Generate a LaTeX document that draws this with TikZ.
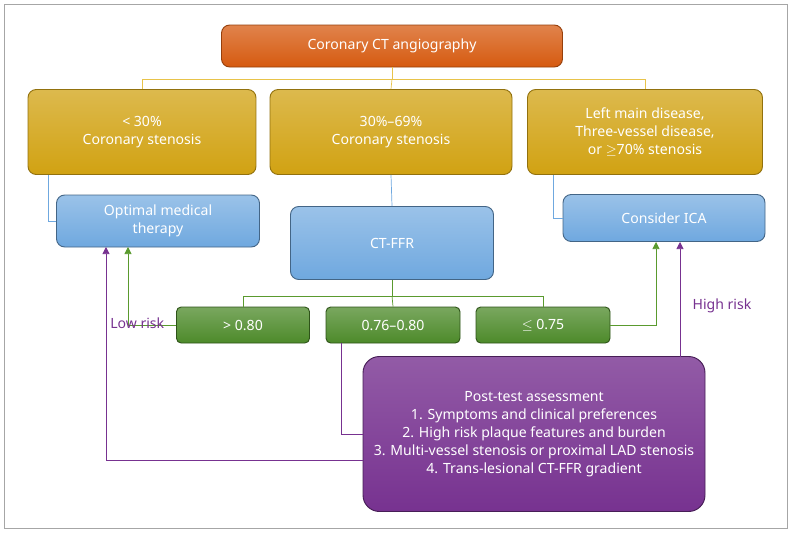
\documentclass[tikz,border=0pt]{standalone}
\usepackage{fontspec}
\setmainfont{Noto Sans}
\usetikzlibrary{arrows.meta}
\definecolor{orangeBox}{HTML}{D65A10}
\definecolor{goldBox}{HTML}{D1A212}
\definecolor{blueBox}{HTML}{6FA8DF}
\definecolor{greenBox}{HTML}{4D8A2A}
\definecolor{purpleBox}{HTML}{773290}
\definecolor{lineGold}{HTML}{E8C34A}
\definecolor{lineBlue}{HTML}{6FA8DF}
\definecolor{lineGreen}{HTML}{5A9A2E}
\definecolor{linePurple}{HTML}{773290}
\tikzset{
  box/.style={rounded corners=7pt, align=center, inner sep=2pt, line width=0.8pt},
  orangeNode/.style={box, top color=orangeBox!75!white, bottom color=orangeBox, draw=orangeBox!70!black, text=white},
  goldNode/.style={box, top color=goldBox!75!white, bottom color=goldBox, draw=goldBox!70!black, text=white},
  blueNode/.style={box, top color=blueBox!70!white, bottom color=blueBox, draw=blueBox!60!black, text=white},
  greenNode/.style={box, rounded corners=4pt, top color=greenBox!75!white, bottom color=greenBox, draw=greenBox!60!black, text=white},
  purpleNode/.style={box, rounded corners=14pt, top color=purpleBox!80!white, bottom color=purpleBox, draw=purpleBox!60!black, text=white},
  link/.style={line width=0.6pt},
  arrowLink/.style={link, -{Triangle[length=6pt,width=6pt]}},
}
\begin{document}
\begin{tikzpicture}[x=0.03cm,y=-0.03cm, every node/.style={font=\fontsize{12}{15.5}\selectfont}]
\useasboundingbox (0,0) rectangle (792,533);
\draw[gray!70] (4,4) rectangle (787,528);

% boxes
\node[orangeNode, minimum width=341*0.03cm, minimum height=42*0.03cm] (cta) at (392,46) {Coronary CT angiography};
\node[goldNode, minimum width=228*0.03cm, minimum height=85*0.03cm] (low) at (142,132) {< 30\%\\Coronary stenosis};
\node[goldNode, minimum width=242*0.03cm, minimum height=85*0.03cm] (mid) at (391,132) {30\%--69\%\\Coronary stenosis};
\node[goldNode, minimum width=235*0.03cm, minimum height=85*0.03cm] (high) at (645,132) {Left main disease,\\Three-vessel disease,\\or $\geq$70\% stenosis};
\node[blueNode, minimum width=203*0.03cm, minimum height=52*0.03cm] (omt) at (158,221) {Optimal medical\\therapy};
\node[blueNode, minimum width=203*0.03cm, minimum height=73*0.03cm] (ffr) at (392,243) {CT-FFR};
\node[blueNode, minimum width=202*0.03cm, minimum height=47*0.03cm] (ica) at (664,218) {Consider ICA};
\node[greenNode, minimum width=133*0.03cm, minimum height=36*0.03cm] (gA) at (243,325) {> 0.80};
\node[greenNode, minimum width=134*0.03cm, minimum height=36*0.03cm] (gB) at (393,325) {0.76--0.80};
\node[greenNode, minimum width=134*0.03cm, minimum height=36*0.03cm] (gC) at (543,325) {$\leq$ 0.75};
\node[purpleNode, minimum width=342*0.03cm, minimum height=155*0.03cm] (post) at (534,434) {Post-test assessment\\1. Symptoms and clinical preferences\\2. High risk plaque features and burden\\3. Multi-vessel stenosis or proximal LAD stenosis\\4. Trans-lesional CT-FFR gradient};

% connectors
\coordinate (ySplit) at (392,79);
\draw[link, lineGold] (cta.south) -- (ySplit);
\draw[link, lineGold] (ySplit) -| (low.north);
\draw[link, lineGold] (ySplit) -| (high.north);
\draw[link, lineGold] (ySplit) -- (mid.north);

\draw[link, lineBlue] (48,175) |- (omt.west);
\draw[link, lineBlue] (mid.south) -- (ffr.north);
\draw[link, lineBlue] (553,175) |- (ica.west);

\coordinate (gSplit) at (392,296);
\draw[link, lineGreen] (ffr.south) -- (gSplit);
\draw[link, lineGreen] (gSplit) -| (gA.north);
\draw[link, lineGreen] (gSplit) -| (gC.north);
\draw[link, lineGreen] (gSplit) -- (gB.north);
\draw[arrowLink, lineGreen] (gA.west) -| (128,247);
\draw[arrowLink, lineGreen] (gC.east) -| (656,242);

\draw[link, linePurple] (341,343) |- (post.west);
\draw[arrowLink, linePurple] (363,460) -| (106,247) node[pos=0.82, right=0pt, text=linePurple] {Low risk};
\draw[arrowLink, linePurple] (680,357) -- (680,242);
\node[text=linePurple] (hr) at (722,306) {High risk};
\end{tikzpicture}
\end{document}
